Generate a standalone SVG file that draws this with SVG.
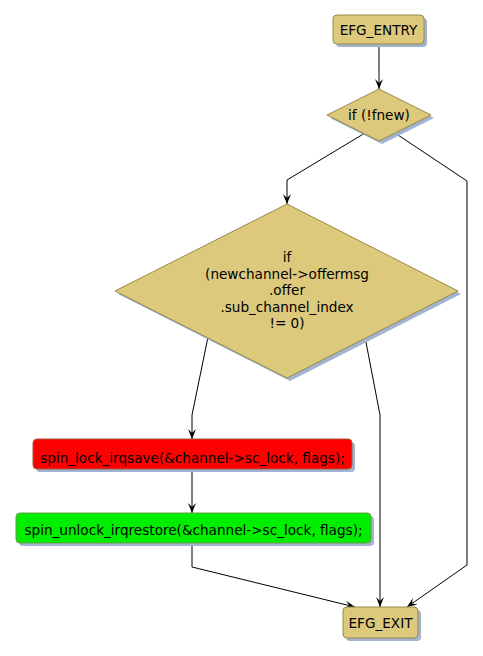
<svg xmlns="http://www.w3.org/2000/svg" width="483" height="656" viewBox="0 0 483 656">
<style>
text{font-family:"DejaVu Sans","Liberation Sans",sans-serif;font-size:13.6px;fill:#000;text-anchor:middle}
.k{fill:#dcc97c;stroke:#9a8844;stroke-width:1}
.sh{fill:#a3b3d3}
.r{fill:#ff0000;stroke:#a05a3a;stroke-width:1}
.g{fill:#00ee00;stroke:#6a9a4a;stroke-width:1}
.e{fill:none;stroke:#000;stroke-width:1}
</style>
<defs>
<marker id="ah" markerUnits="userSpaceOnUse" markerWidth="10" markerHeight="10" viewBox="0 0 10 10" refX="10" refY="5" orient="auto">
<path d="M0,1 L10,5 L0,9 L4,5 Z" fill="#000"/>
</marker>
</defs>
<g id="connectors">
<path class="e" d="M379,44 L379,89" marker-end="url(#ah)"/>
<path class="e" d="M365,133 L287,180 L287,204" marker-end="url(#ah)"/>
<path class="e" d="M395,133 L467,181 L467,565 L407,607" marker-end="url(#ah)"/>
<path class="e" d="M208,337 L192,415 L192,439" marker-end="url(#ah)"/>
<path class="e" d="M365,337 L380,415 L380,607" marker-end="url(#ah)"/>
<path class="e" d="M192,469 L192,513" marker-end="url(#ah)"/>
<path class="e" d="M192,543 L192,567 L355,607" marker-end="url(#ah)"/>
</g>
<g id="entry">
<rect class="sh" x="336" y="18" width="91" height="29" rx="4"/>
<rect class="k" x="333" y="15" width="91" height="29" rx="4"/>
<text x="378.5" y="35">EFG_ENTRY</text>
</g>
<g id="if_fnew">
<polygon class="sh" points="382,92 434,118 382,144 330,118"/>
<polygon class="k" points="379,89 431,115 379,141 327,115"/>
<text x="379" y="120">if (!fnew)</text>
</g>
<g id="if_subchannel">
<polygon class="sh" points="290,207 461,294 290,381 118,294"/>
<polygon class="k" points="287,204 458,291 287,378 115,291"/>
<text x="287" y="262">if</text>
<text x="287" y="278.5">(newchannel-&gt;offermsg</text>
<text x="287" y="295">.offer</text>
<text x="287" y="311.5">.sub_channel_index</text>
<text x="287" y="328">!= 0)</text>
</g>
<g id="lock">
<rect class="sh" x="36" y="442" width="319" height="30" rx="4"/>
<rect class="r" x="33" y="439" width="319" height="30" rx="4"/>
<text x="192.5" y="463">spin_lock_irqsave(&amp;channel-&gt;sc_lock, flags);</text>
</g>
<g id="unlock">
<rect class="sh" x="19" y="516" width="355" height="30" rx="4"/>
<rect class="g" x="16" y="513" width="355" height="30" rx="4"/>
<text x="193.5" y="535">spin_unlock_irqrestore(&amp;channel-&gt;sc_lock, flags);</text>
</g>
<g id="exit">
<rect class="sh" x="346" y="610" width="75" height="31" rx="4"/>
<rect class="k" x="343" y="607" width="75" height="31" rx="4"/>
<text x="380.5" y="627.5">EFG_EXIT</text>
</g>
</svg>
